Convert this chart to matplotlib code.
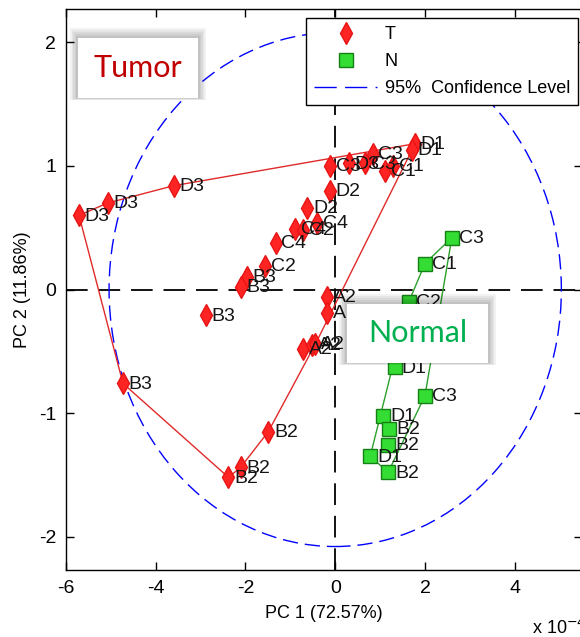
import matplotlib
matplotlib.use("Agg")
import matplotlib.pyplot as plt
from matplotlib.patches import Ellipse, Rectangle

plt.rcParams['font.family'] = ['Liberation Sans', 'DejaVu Sans']
plt.rcParams['axes.unicode_minus'] = False

# tumor samples (PC1 in 1e-4 units, PC2)
t_x = [1.78, 1.71, 0.84, 0.67, 0.31, -0.11, 1.11, 1.29, -0.11, -0.62,
       -0.40, -0.89, -0.71, -1.33, -1.56, -1.96, -2.11, -5.71, -5.07, -3.60,
       -2.89, -4.73, -1.49, -2.11, -2.38, -0.18, -0.18, -0.71, -0.51, -0.44]
t_y = [1.18, 1.13, 1.10, 1.02, 1.02, 1.00, 0.96, 1.00, 0.80, 0.66,
       0.54, 0.49, 0.48, 0.38, 0.19, 0.10, 0.02, 0.60, 0.70, 0.84,
       -0.21, -0.76, -1.15, -1.44, -1.52, -0.06, -0.19, -0.48, -0.45, -0.44]
t_lab = ["D1", "D1", "C3", "C3", "D3", "C3", "C1", "C1", "D2", "D2",
         "C4", "C4", "C2", "C4", "C2", "B3", "B3", "D3", "D3", "D3",
         "B3", "B3", "B2", "B2", "B2", "A2", "A", "A2", "A2", "A2"]

# normal samples
n_x = [2.60, 2.00, 1.64, 1.33, 2.00, 1.07, 1.20, 1.18, 0.78, 1.18]
n_y = [0.42, 0.21, -0.10, -0.63, -0.86, -1.02, -1.13, -1.26, -1.35, -1.48]
n_lab = ["C3", "C1", "C2", "D1", "C3", "D1", "B2", "B2", "D1", "B2"]

# 95% confidence ellipse
ell_a = 5.04
ell_b = 2.08


def hull(xs, ys):
    # monotone chain convex hull, returns closed polygon
    pts = sorted(set(zip(xs, ys)))

    def cross(o, a, b):
        return (a[0] - o[0]) * (b[1] - o[1]) - (a[1] - o[1]) * (b[0] - o[0])

    lower = []
    for p in pts:
        while len(lower) >= 2 and cross(lower[-2], lower[-1], p) <= 0:
            lower.pop()
        lower.append(p)
    upper = []
    for p in reversed(pts):
        while len(upper) >= 2 and cross(upper[-2], upper[-1], p) <= 0:
            upper.pop()
        upper.append(p)
    poly = lower[:-1] + upper[:-1]
    poly.append(poly[0])
    return [p[0] for p in poly], [p[1] for p in poly]


fig = plt.figure(figsize=(5.8, 6.37), dpi=100)
ax = fig.add_axes([66 / 580, 67 / 637, 516 / 580, 561 / 637])

ax.axhline(0, color='black', lw=1.3, dashes=(12, 6), zorder=1)
ax.axvline(0, color='black', lw=1.3, dashes=(12, 6), zorder=1)

ax.add_patch(Ellipse((0, 0), 2 * ell_a, 2 * ell_b, fill=False, ec='blue',
                     lw=1, ls=(0, (11, 5)), zorder=2))

hx, hy = hull(t_x, t_y)
ax.plot(hx, hy, color='#e02a2a', lw=1, zorder=3)
hx, hy = hull(n_x, n_y)
ax.plot(hx, hy, color='#2ca02c', lw=1, zorder=3)

tri = dict(ls='none', marker='d', ms=11, mew=1, mfc='#ff2424', mec='#e81414')
sq = dict(ls='none', marker='s', ms=9.5, mfc='#33dd33', mec='#168016')
ax.plot(t_x, t_y, zorder=4, **tri)
ax.plot(n_x, n_y, zorder=4, **sq)

for x, y, s in zip(t_x, t_y, t_lab):
    ax.annotate(s, (x, y), xytext=(4, -0.5), textcoords='offset points',
                va='center', ha='left', fontsize=14, color='#151515', zorder=5)
for x, y, s in zip(n_x, n_y, n_lab):
    ax.annotate(s, (x, y), xytext=(5, -0.5), textcoords='offset points',
                va='center', ha='left', fontsize=14, color='#151515', zorder=5)

# legend handles
ax.plot([], [], label='T', **tri)
ax.plot([], [], label='N', **sq)
ax.plot([], [], color='blue', lw=1, dashes=(16, 6), label='95%  Confidence Level')

ax.set_xlim(-6, 5.5)
ax.set_ylim(-2.27, 2.27)
ax.set_xticks([-6, -4, -2, 0, 2, 4])
ax.set_yticks([-2, -1, 0, 1, 2])
ax.tick_params(direction='in', top=True, right=True, length=6, width=1,
               labelsize=14, pad=7)
for sp in ax.spines.values():
    sp.set_linewidth(1)
ax.set_xlabel('PC 1 (72.57%)', fontsize=13, labelpad=6)
ax.set_ylabel('PC 2 (11.86%)', fontsize=13, labelpad=6)

leg = ax.legend(loc='upper right', bbox_to_anchor=(578 / 580, 1 - 18 / 637),
                bbox_transform=fig.transFigure, borderaxespad=0, fontsize=13,
                handlelength=3.5, handletextpad=0.4, labelspacing=0.55,
                borderpad=0.45, fancybox=False, framealpha=1, edgecolor='black')
leg.get_frame().set_linewidth(1)
leg.set_zorder(10)

fig.text(532 / 580, 1 - 628 / 637, r'x 10$^{-4}$', fontsize=13, va='center', ha='left')


def note_box(x0, y0, x1, y1, txt, col):
    w = (x1 - x0) / 580
    h = (y1 - y0) / 637
    left = x0 / 580
    bot = 1 - y1 / 637
    for k in range(1, 6):
        dx = k * 1.6 / 580
        dy = k * 1.6 / 637
        fig.patches.append(Rectangle((left - dx, bot - dy * 0.3), w + 2 * dx, h + dy * 1.6,
                                     transform=fig.transFigure, fc='black', ec='none',
                                     alpha=0.05, zorder=20))
    fig.patches.append(Rectangle((left, bot), w, h, transform=fig.transFigure,
                                 fc='white', ec='none', zorder=21))
    fig.text(left + w / 2, bot + h / 2, txt, color=col, fontsize=22, family='Lato',
             ha='center', va='center', zorder=22)


note_box(78, 38, 198, 98, 'Tumor', '#c00000')
note_box(347, 304, 488, 363, 'Normal', '#00b050')

fig.savefig('out.png', dpi=100)
